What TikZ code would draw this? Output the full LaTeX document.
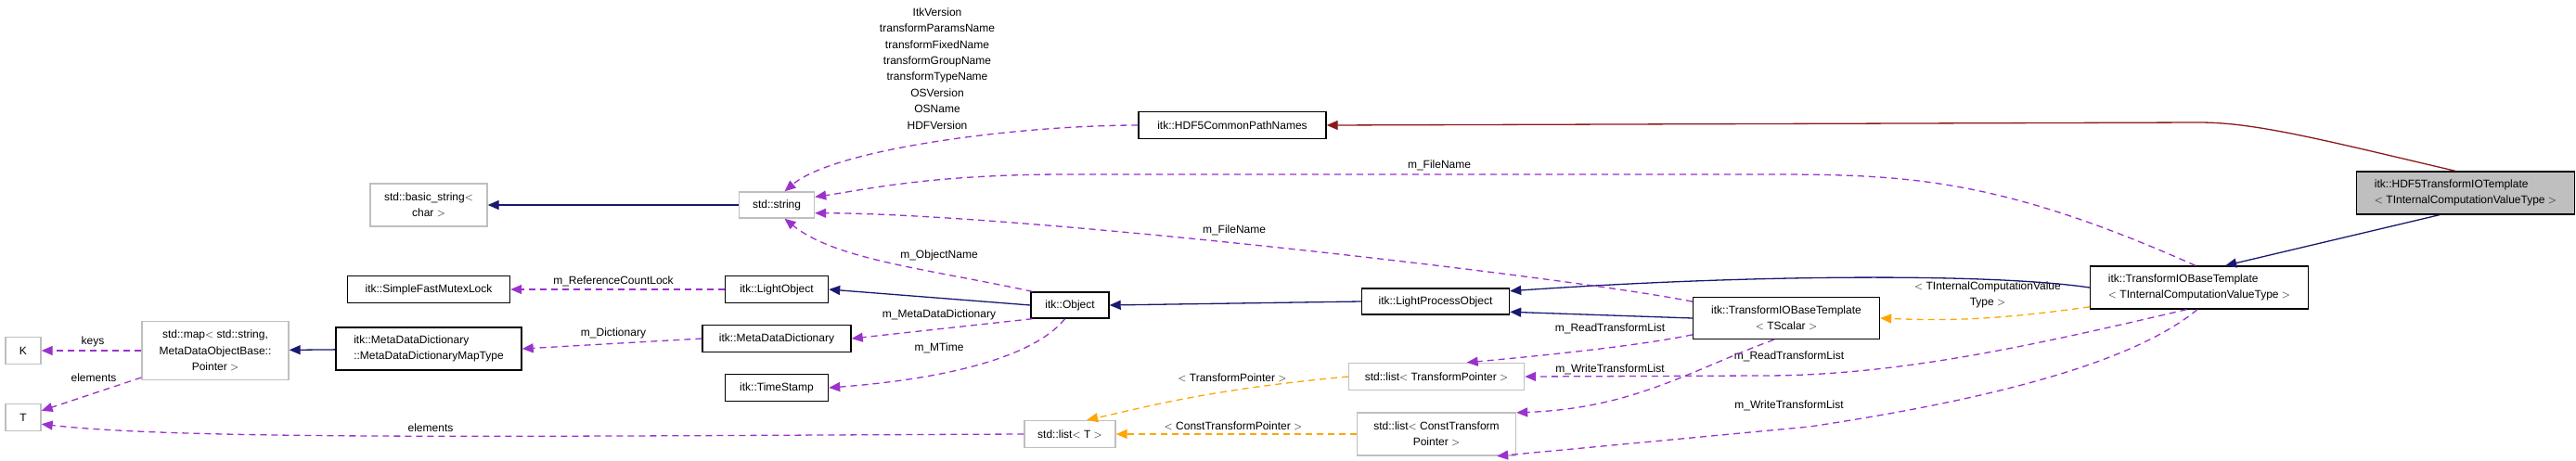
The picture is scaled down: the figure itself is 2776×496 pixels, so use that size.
\documentclass[tikz,border=0pt]{standalone}
\usepackage{fontspec}
\setmainfont{Liberation Sans}
\usetikzlibrary{arrows.meta, positioning}
\definecolor{navyline}{HTML}{191970}
\definecolor{usedline}{HTML}{9A32CD}
\definecolor{tmplline}{HTML}{FFA500}
\definecolor{frndline}{HTML}{8B1A1A}
\definecolor{extgray}{HTML}{BFBFBF}

\begin{document}
\begin{tikzpicture}[
    x=1pt, y=-1pt,
    font=\fontsize{12}{17.4}\selectfont,
    cls/.style={rectangle, draw=black, fill=white, line width=1.4pt, inner sep=2pt, align=center},
    ext/.style={rectangle, draw=extgray, fill=white, line width=1.4pt, inner sep=2pt, align=center},
    focus/.style={cls, fill=extgray, align=left},
    inherit/.style={draw=navyline, line width=1.3pt, -{Triangle[length=12pt,width=10pt]}},
    member/.style={draw=usedline, line width=1.3pt, dash pattern=on 7pt off 5pt, -{Triangle[length=12pt,width=10pt]}},
    tmpl/.style={draw=tmplline, line width=1.3pt, dash pattern=on 7pt off 5pt, -{Triangle[length=12pt,width=10pt]}},
    friend/.style={draw=frndline, line width=1.3pt, -{Triangle[length=12pt,width=10pt]}},
    lbl/.style={inner sep=0pt, align=center}
]
\useasboundingbox (0,0) rectangle (2776,496);

% Classes
\node[ext, minimum width=38, minimum height=29] (K) at (25,378) {K};
\node[ext, minimum width=38, minimum height=29] (T) at (25,450) {T};
\node[ext, minimum width=158, minimum height=63] (stdmap) at (232,378) {std::map$<$ std::string,\\MetaDataObjectBase::\\Pointer $>$};
\node[cls, minimum width=200, minimum height=46, align=left] (maptype) at (462,376) {itk::MetaDataDictionary\\::MetaDataDictionaryMapType};
\node[cls, minimum width=175, minimum height=29] (mutex) at (462,312) {itk::SimpleFastMutexLock};
\node[ext, minimum width=126, minimum height=46] (basicstr) at (462,221) {std::basic\_string$<$\\char $>$};
\node[ext, minimum width=81, minimum height=28] (string) at (837,221) {std::string};
\node[cls, minimum width=111, minimum height=29] (lightobj) at (837,312) {itk::LightObject};
\node[cls, minimum width=160, minimum height=29] (mdd) at (837,365) {itk::MetaDataDictionary};
\node[cls, minimum width=111, minimum height=29] (timestamp) at (837,418) {itk::TimeStamp};
\node[cls, minimum width=202, minimum height=29] (pathnames) at (1328,135) {itk::HDF5CommonPathNames};
\node[cls, minimum width=84, minimum height=28] (object) at (1153,329) {itk::Object};
\node[cls, minimum width=159, minimum height=28] (lpo) at (1547,325) {itk::LightProcessObject};
\node[cls, minimum width=201, minimum height=45] (tscalar) at (1925,343) {itk::TransformIOBaseTemplate\\$<$ TScalar $>$};
\node[ext, minimum width=189, minimum height=29] (listtp) at (1548,406) {std::list$<$ TransformPointer $>$};
\node[ext, minimum width=98, minimum height=29] (listt) at (1153,468) {std::list$<$ T $>$};
\node[ext, minimum width=171, minimum height=46] (listconst) at (1548,468) {std::list$<$ ConstTransform\\Pointer $>$};
\node[focus, minimum width=235, minimum height=46] (hdf5tio) at (2657,208) {itk::HDF5TransformIOTemplate\\$<$ TInternalComputationValueType $>$};
\node[cls, minimum width=235, minimum height=46, align=left] (tinternal) at (2370,310) {itk::TransformIOBaseTemplate\\$<$ TInternalComputationValueType $>$};

% Labels
\node[lbl] (lstack) at (1010,74) {ItkVersion\\transformParamsName\\transformFixedName\\transformGroupName\\transformTypeName\\OSVersion\\OSName\\HDFVersion};
\node[lbl] (lfiletop) at (1551,178) {m\_FileName};
\node[lbl] (lfilemid) at (1330,248) {m\_FileName};
\node[lbl] (lobjname) at (1012,275) {m\_ObjectName};
\node[lbl] (lmdd) at (1012,339) {m\_MetaDataDictionary};
\node[lbl] (lmtime) at (1012,375) {m\_MTime};
\node[lbl] (lrefcount) at (661,303) {m\_ReferenceCountLock};
\node[lbl] (ldict) at (661,359) {m\_Dictionary};
\node[lbl] (lkeys) at (100,368) {keys};
\node[lbl] (lelemup) at (101,407) {elements};
\node[lbl] (lelemlow) at (464,461) {elements};
\node[lbl] (lreadone) at (1735,354) {m\_ReadTransformList};
\node[lbl] (lwriteone) at (1735,398) {m\_WriteTransformList};
\node[lbl] (lreadtwo) at (1928,384) {m\_ReadTransformList};
\node[lbl] (lwritetwo) at (1928,437) {m\_WriteTransformList};
\node[lbl] (ltp) at (1328,407) {$<$ TransformPointer $>$};
\node[lbl] (lctp) at (1329,459) {$<$ ConstTransformPointer $>$};
\node[lbl] (ltint) at (2142,318) {$<$ TInternalComputationValue\\Type $>$};

% Inheritance
\draw[inherit] (string) -- (basicstr);
\draw[inherit] (maptype) -- (stdmap);
\draw[inherit] (object.west) -- (lightobj.east);
\draw[inherit] (lpo.west) -- (object.east);
\draw[inherit] (tscalar.west) -- (lpo.-8);
\draw[inherit] (tinternal.west) .. controls (2150,295) and (1900,295) .. (lpo.8);
\draw[inherit] (hdf5tio.-140) -- (tinternal.40);
\draw[friend] (hdf5tio.115) .. controls (2500,150) and (2430,132) .. (2370,132) -- (pathnames.east);

% Templates
\draw[tmpl] (tinternal.-170) .. controls (2150,345) and (2100,346) .. (tscalar.east);
\draw[tmpl] (listtp.west) .. controls (1300,420) and (1230,440) .. (listt.40);
\draw[tmpl] (listconst.west) -- (listt.east);

% Members
\draw[member] (stdmap.west|-K) -- (K.east);
\draw[member] (stdmap.-160) -- (T.20);
\draw[member] (listt.west) .. controls (600,470) and (200,475) .. (T.-20);
\draw[member] (lightobj.west) -- (mutex.east);
\draw[member] (mdd.west) -- (maptype.east);
\draw[member] (object.-160) -- (mdd.east);
\draw[member] (object.-110) .. controls (1110,390) and (1000,410) .. (timestamp.east);
\draw[member] (object.160) .. controls (1000,290) and (900,280) .. (string.-60);
\draw[member] (pathnames.west) .. controls (1100,135) and (900,160) .. (string.60);
\draw[member] (tinternal.100) .. controls (2150,190) and (2050,188) .. (1900,188) -- (1150,188) .. controls (1000,188) and (930,205) .. (string.12);
\draw[member] (tscalar.170) .. controls (1700,300) and (1100,230) .. (string.-12);
\draw[member] (tscalar.-170) .. controls (1780,370) and (1700,380) .. (listtp.25);
\draw[member] (tinternal.-120) .. controls (2200,370) and (2050,405) .. (1900,405) -- (listtp.east);
\draw[member] (tscalar.-120) .. controls (1820,400) and (1760,440) .. (listconst.15);
\draw[member] (tinternal.-95) .. controls (2300,390) and (2150,430) .. (1950,460) -- (listconst.-20);
\end{tikzpicture}
\end{document}
